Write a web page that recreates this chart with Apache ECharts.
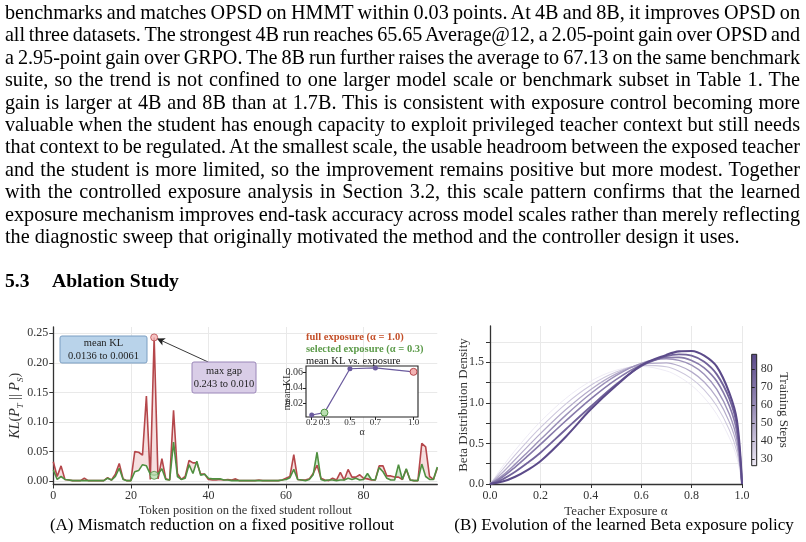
<!DOCTYPE html>
<html><head><meta charset="utf-8">
<script src="https://cdn.jsdelivr.net/npm/echarts@6/dist/echarts.min.js"></script>
<style>
html,body{margin:0;padding:0;background:#fff;}
#page{position:relative;width:806px;height:542px;overflow:hidden;background:#fff;}
#chart{position:absolute;left:0;top:0;width:806px;height:542px;}
#text{position:absolute;left:5px;top:1px;width:795px;font-family:'Liberation Serif','Times New Roman',serif;font-size:20.2px;line-height:22.4px;color:#000;}
.ln{white-space:nowrap;display:block;height:22.4px;}
.ln span{white-space:nowrap;}
#head{position:absolute;left:5px;top:270px;font-family:'Liberation Serif','Times New Roman',serif;font-weight:bold;font-size:19.6px;line-height:22px;color:#000;white-space:nowrap;}
</style></head>
<body>
<div id="page">
<div id="chart"></div>
<div id="text"></div>
<div id="head"><span>5.3</span><span style="position:absolute;left:47px;">Ablation Study</span></div>
</div>
<script>
// ---------------- text ----------------
const paragraphLines = [
 "benchmarks and matches OPSD on HMMT within 0.03 points. At 4B and 8B, it improves OPSD on",
 "all three datasets. The strongest 4B run reaches 65.65 Average@12, a 2.05-point gain over OPSD and",
 "a 2.95-point gain over GRPO. The 8B run further raises the average to 67.13 on the same benchmark",
 "suite, so the trend is not confined to one larger model scale or benchmark subset in Table 1. The",
 "gain is larger at 4B and 8B than at 1.7B. This is consistent with exposure control becoming more",
 "valuable when the student has enough capacity to exploit privileged teacher context but still needs",
 "that context to be regulated. At the smallest scale, the usable headroom between the exposed teacher",
 "and the student is more limited, so the improvement remains positive but more modest. Together",
 "with the controlled exposure analysis in Section 3.2, this scale pattern confirms that the learned",
 "exposure mechanism improves end-task accuracy across model scales rather than merely reflecting",
 "the diagnostic sweep that originally motivated the method and the controller design it uses."
];

// ---------------- chart A data ----------------
const fullExposureKL = [
 0.033,0.008,0.026,0.003,0.002,0.001,0.001,0.001,0.005,0.001,
 0.001,0.001,0.001,0.001,0.006,0.002,0.012,0.030,0.004,0.001,
 0.001,0.050,0.049,0.044,0.144,0.003,0.243,0.004,0.038,0.004,
 0.002,0.120,0.013,0.003,0.008,0.035,0.031,0.031,0.012,0.012,
 0.003,0.002,0.002,0.003,0.002,0.003,0.002,0.004,0.001,0.001,
 0.001,0.001,0.001,0.002,0.001,0.001,0.001,0.001,0.001,0.002,
 0.005,0.008,0.045,0.003,0.002,0.002,0.004,0.013,0.027,0.005,
 0.002,0.001,0.005,0.002,0.015,0.002,0.020,0.007,0.007,0.011,
 0.005,0.004,0.002,0.002,0.026,0.026,0.009,0.009,0.007,0.007,
 0.003,0.020,0.002,0.001,0.001,0.064,0.058,0.008,0.003,0.022
];
const selectedExposureKL = [
 0.019,0.003,0.008,0.003,0.002,0.001,0.001,0.001,0.001,0.001,
 0.001,0.001,0.001,0.001,0.005,0.002,0.008,0.022,0.003,0.001,
 0.001,0.016,0.018,0.028,0.026,0.012,0.010,0.012,0.021,0.003,
 0.002,0.066,0.008,0.003,0.005,0.028,0.013,0.034,0.010,0.012,
 0.005,0.004,0.004,0.004,0.002,0.002,0.001,0.001,0.001,0.001,
 0.001,0.001,0.001,0.001,0.001,0.001,0.001,0.001,0.001,0.002,
 0.003,0.006,0.020,0.003,0.002,0.001,0.003,0.011,0.049,0.003,
 0.001,0.002,0.002,0.001,0.002,0.002,0.005,0.003,0.005,0.002,
 0.003,0.013,0.003,0.002,0.023,0.016,0.005,0.002,0.002,0.028,
 0.003,0.021,0.002,0.001,0.001,0.029,0.008,0.003,0.003,0.024
];
const yTicksA = [0, 0.05, 0.10, 0.15, 0.20, 0.25];
const xTicksA = [0, 20, 40, 60, 80];

// inset
const insetAlpha = [0.2, 0.3, 0.5, 0.7, 1.0];
const insetMeanKL = [0.0052, 0.0082, 0.0645, 0.0655, 0.0605];
const insetYTicks = [0.02, 0.04, 0.06];

// ---------------- chart B data ----------------
const betaX = [0, 0.05, 0.1, 0.15, 0.2, 0.3, 0.4, 0.5, 0.6, 0.7, 0.75, 0.8, 0.85, 0.9, 0.95, 0.98, 1.0];
const trainingSteps = [27, 37, 47, 57, 67, 77, 88];
const densityStep27 = [0, 0.215, 0.416, 0.600, 0.768, 1.053, 1.267, 1.401, 1.448, 1.393, 1.321, 1.214, 1.063, 0.858, 0.569, 0.318, 0];
const densityStep37 = [0, 0.179, 0.359, 0.532, 0.694, 0.984, 1.216, 1.379, 1.461, 1.443, 1.388, 1.297, 1.159, 0.961, 0.666, 0.393, 0];
const densityStep47 = [0, 0.142, 0.302, 0.463, 0.621, 0.914, 1.165, 1.356, 1.473, 1.492, 1.456, 1.381, 1.256, 1.063, 0.762, 0.469, 0];
const densityStep57 = [0, 0.106, 0.245, 0.395, 0.547, 0.845, 1.114, 1.334, 1.486, 1.542, 1.523, 1.464, 1.352, 1.166, 0.859, 0.544, 0];
const densityStep67 = [0, 0.087, 0.209, 0.345, 0.487, 0.776, 1.049, 1.286, 1.466, 1.558, 1.560, 1.522, 1.431, 1.265, 0.960, 0.630, 0];
const densityStep77 = [0, 0.058, 0.150, 0.262, 0.385, 0.672, 0.955, 1.225, 1.452, 1.574, 1.597, 1.580, 1.505, 1.350, 1.050, 0.710, 0];
const densityStep88 = [0, 0.030, 0.090, 0.175, 0.280, 0.580, 0.920, 1.210, 1.460, 1.590, 1.634, 1.638, 1.580, 1.445, 1.120, 0.780, 0];
const densityCurves = [densityStep27, densityStep37, densityStep47, densityStep57, densityStep67, densityStep77, densityStep88];
const xTicksB = [0, 0.2, 0.4, 0.6, 0.8, 1.0];
const yTicksB = [0, 0.5, 1.0, 1.5];
const yMinorB = [0, 0.25, 0.5, 0.75, 1.0, 1.25, 1.5, 1.75];
const stepTicks = [30, 40, 50, 60, 70, 80];
const stepRange = [26.4, 88.3];

// ---------------- text layout ----------------
(function(){
  const box = document.getElementById('text');
  paragraphLines.forEach((t, k) => {
    const d = document.createElement('div'); d.className = 'ln';
    const s = document.createElement('span'); s.textContent = t; d.appendChild(s); box.appendChild(d);
    if (k < paragraphLines.length - 1) {
      const w = s.getBoundingClientRect().width;
      const n = (t.match(/ /g) || []).length;
      let ws = (795 - w) / n;
      if (ws < -1.0) {
        ws = -1.0;
        const ls = (795 - w - ws * n) / t.length;
        s.style.letterSpacing = ls + 'px';
      }
      s.style.wordSpacing = ws + 'px';
    }
  });
})();

// ---------------- chart ----------------
const FONT = "'Liberation Serif', 'Times New Roman', serif";
const RED = '#b5474b', GREEN = '#4f9040', PURPLE = '#6b5b9e';
const chart = echarts.init(document.getElementById('chart'), null, {renderer: 'canvas'});

const tokens = fullExposureKL.map((_, i) => i);
const fillData = [];
for (let i = 0; i < tokens.length - 1; i++) {
  fillData.push([tokens[i], fullExposureKL[i], selectedExposureKL[i], fullExposureKL[i+1], selectedExposureKL[i+1]]);
}
let gapIdx = 0;
fullExposureKL.forEach((v, i) => { if (v - selectedExposureKL[i] > fullExposureKL[gapIdx] - selectedExposureKL[gapIdx]) gapIdx = i; });

function fillItem(params, api) {
  const i = api.value(0), r0 = api.value(1), g0 = api.value(2), r1 = api.value(3), g1 = api.value(4);
  const d0 = r0 - g0, d1 = r1 - g1;
  const P = (x, y) => api.coord([x, y]);
  const pink = 'rgba(214,110,110,0.22)', lg = 'rgba(110,185,100,0.32)';
  const ch = [];
  if (d0 * d1 >= 0) {
    ch.push({type: 'polygon', shape: {points: [P(i, r0), P(i+1, r1), P(i+1, g1), P(i, g0)]}, style: {fill: (d0 + d1) >= 0 ? pink : lg}});
  } else {
    const t = d0 / (d0 - d1), xc = i + t, yc = r0 + (r1 - r0) * t;
    ch.push({type: 'polygon', shape: {points: [P(i, r0), P(xc, yc), P(i, g0)]}, style: {fill: d0 > 0 ? pink : lg}});
    ch.push({type: 'polygon', shape: {points: [P(xc, yc), P(i+1, r1), P(i+1, g1)]}, style: {fill: d1 > 0 ? pink : lg}});
  }
  return {type: 'group', children: ch};
}

const lightC = [237, 233, 244], darkC = [91, 74, 138];
function stepColor(s) {
  const t = (s - stepRange[0]) / (stepRange[1] - stepRange[0]);
  const c = lightC.map((v, k) => Math.round(v + (darkC[k] - v) * Math.pow(t, 0.85)));
  return 'rgb(' + c.join(',') + ')';
}

const axisLineStyle = {color: '#333', width: 1.3};
const lbl = (size) => ({color: '#333', fontFamily: FONT, fontSize: size});

const option = {
  animation: false,
  backgroundColor: 'transparent',
  textStyle: {fontFamily: FONT},
  grid: [
    {left: 53.3, top: 327, width: 384, height: 157.5},                 // A main
    {left: 306, top: 366, width: 112, height: 51, show: true, backgroundColor: '#fff', borderColor: '#222', borderWidth: 1.1, z: 4}, // inset
    {left: 490, top: 326, width: 252, height: 158},                    // B
    {left: 751.7, top: 354.3, width: 5, height: 111.4, show: true, borderColor: '#222', borderWidth: 1, z: 4} // colorbar
  ],
  xAxis: [
    {gridIndex: 0, type: 'value', min: 0, max: 99,
     name: 'Token position on the fixed student rollout', nameLocation: 'middle', nameGap: 20,
     nameTextStyle: {fontFamily: FONT, fontSize: 12.5, color: '#333'},
     axisLine: {onZero: false, lineStyle: axisLineStyle},
     axisTick: {customValues: xTicksA, length: 4, lineStyle: {color: '#333'}},
     axisLabel: {customValues: xTicksA, margin: 5, ...lbl(12)},
     splitLine: {show: true, lineStyle: {color: '#e9e9e9', width: 1}}},
    {gridIndex: 1, type: 'value', min: 0.155, max: 1.035, z: 5,
     name: 'α', nameLocation: 'middle', nameGap: 10, nameMoveOverlap: false, nameTextStyle: {fontFamily: FONT, fontSize: 10, color: '#333'},
     axisLine: {show: false},
     axisTick: {customValues: insetAlpha, length: 3, lineStyle: {color: '#222'}},
     axisLabel: {customValues: insetAlpha, margin: 1, formatter: v => v.toFixed(1), ...lbl(9)},
     splitLine: {show: false}},
    {gridIndex: 2, type: 'value', min: 0, max: 1,
     name: 'Teacher Exposure α', nameLocation: 'middle', nameGap: 21,
     nameTextStyle: {fontFamily: FONT, fontSize: 13, color: '#333'},
     axisLine: {onZero: false, lineStyle: axisLineStyle},
     axisTick: {customValues: xTicksB, length: 4, lineStyle: {color: '#333'}},
     axisLabel: {customValues: xTicksB, margin: 6, formatter: v => v.toFixed(1), ...lbl(12)},
     splitLine: {show: true, lineStyle: {color: '#e9e9e9'}}},
    {gridIndex: 3, type: 'value', min: 0, max: 1, show: false}
  ],
  yAxis: [
    {gridIndex: 0, type: 'value', min: -0.0055, max: 0.2606,
     name: '{i|KL}{n|(}{i|P}{s|T}{n| || }{i|P}{s|S}{n|)}', nameLocation: 'middle', nameGap: 28, nameMoveOverlap: false,
     nameTextStyle: {rich: {
       i: {fontFamily: FONT, fontStyle: 'italic', fontSize: 14, color: '#333', lineHeight: 20, verticalAlign: 'middle'},
       n: {fontFamily: FONT, fontSize: 14, color: '#333', lineHeight: 20, verticalAlign: 'middle'},
       s: {fontFamily: FONT, fontStyle: 'italic', fontSize: 9, color: '#333', lineHeight: 20, verticalAlign: 'bottom'}}},
     axisLine: {show: true, onZero: false, lineStyle: axisLineStyle},
     axisTick: {show: true, customValues: yTicksA, length: 4, lineStyle: {color: '#333'}},
     axisLabel: {customValues: yTicksA, margin: 5, formatter: v => v.toFixed(2), ...lbl(12)},
     splitLine: {show: true, lineStyle: {color: '#e9e9e9'}}},
    {gridIndex: 1, type: 'value', min: 0.0026, max: 0.068, z: 5,
     name: 'mean KL', nameLocation: 'middle', nameGap: 14, nameMoveOverlap: false, nameTextStyle: {fontFamily: FONT, fontSize: 10, color: '#333'},
     axisLine: {show: false},
     axisTick: {show: true, customValues: insetYTicks, length: 3, lineStyle: {color: '#222'}},
     axisLabel: {customValues: insetYTicks, margin: 3, formatter: v => v.toFixed(2), ...lbl(10)},
     splitLine: {show: false}},
    {gridIndex: 2, type: 'value', min: 0, max: 1.946,
     name: 'Beta Distribution Density', nameLocation: 'middle', nameGap: 20, nameMoveOverlap: false,
     nameTextStyle: {fontFamily: FONT, fontSize: 13, color: '#333'},
     axisLine: {show: true, onZero: false, lineStyle: axisLineStyle},
     axisTick: {show: true, customValues: yMinorB, length: 4, lineStyle: {color: '#333'}},
     axisLabel: {customValues: yTicksB, margin: 6, formatter: v => v.toFixed(1), ...lbl(12)},
     splitLine: {show: true, lineStyle: {color: '#e9e9e9'}}},
    {gridIndex: 3, type: 'value', min: stepRange[0], max: stepRange[1], position: 'right', z: 5,
     name: 'Training Steps', nameLocation: 'middle', nameGap: 20, nameRotate: -90,
     nameTextStyle: {fontFamily: FONT, fontSize: 13, color: '#333'},
     axisLine: {show: false},
     axisTick: {show: true, customValues: stepTicks, length: 3, lineStyle: {color: '#222'}},
     axisLabel: {customValues: stepTicks, margin: 4, ...lbl(12)},
     splitLine: {show: false}}
  ],
  series: [
    {type: 'custom', xAxisIndex: 0, yAxisIndex: 0, renderItem: fillItem, data: fillData, encode: {x: 0, y: [1, 2]}, z: 1, silent: true},
    {type: 'line', xAxisIndex: 0, yAxisIndex: 0, data: tokens.map((x, i) => [x, fullExposureKL[i]]), symbol: 'none',
     lineStyle: {color: RED, width: 1.6}, z: 3,
     markLine: {silent: true, symbol: ['none', 'arrow'], symbolSize: [6, 8], label: {show: false},
       lineStyle: {color: '#222', width: 0.9, type: 'solid'},
       data: [[{coord: [39.9, 0.2015]}, {coord: [26.7, 0.2412]}]]}},
    {type: 'line', xAxisIndex: 0, yAxisIndex: 0, data: tokens.map((x, i) => [x, selectedExposureKL[i]]), symbol: 'none',
     lineStyle: {color: GREEN, width: 1.6}, z: 4},
    {type: 'scatter', xAxisIndex: 0, yAxisIndex: 0, data: [[tokens[gapIdx], selectedExposureKL[gapIdx]]], symbol: 'circle', symbolSize: 8,
     itemStyle: {color: '#b9dfb0', borderColor: GREEN, borderWidth: 1}, z: 5},
    {type: 'scatter', xAxisIndex: 0, yAxisIndex: 0, data: [[tokens[gapIdx], fullExposureKL[gapIdx]]], symbol: 'circle', symbolSize: 7,
     itemStyle: {color: '#f3b3b3', borderColor: RED, borderWidth: 1}, z: 5},
    {type: 'line', xAxisIndex: 1, yAxisIndex: 1, z: 6,
     data: insetAlpha.map((a, i) => {
       const p = {value: [a, insetMeanKL[i]]};
       if (a === 0.3) { p.symbolSize = 7; p.itemStyle = {color: '#b9dfb0', borderColor: GREEN, borderWidth: 1}; }
       if (a === 1.0) { p.symbolSize = 7; p.itemStyle = {color: '#f3b3b3', borderColor: RED, borderWidth: 1}; }
       return p;
     }),
     symbol: 'circle', symbolSize: 5, lineStyle: {color: PURPLE, width: 1.2}, itemStyle: {color: PURPLE, borderWidth: 0}},
    ...densityCurves.map((curve, k) => ({
      type: 'line', xAxisIndex: 2, yAxisIndex: 2, smooth: 0.35, symbol: 'none', z: 2 + k,
      data: betaX.map((x, i) => [x, curve[i]]),
      lineStyle: {color: stepColor(trainingSteps[k]), width: 0.8 + 1.3 * k / (densityCurves.length - 1)}
    })),
    {type: 'custom', xAxisIndex: 3, yAxisIndex: 3, data: [[0, stepRange[0], stepRange[1]]], silent: true, z: 3,
     renderItem: (params, api) => {
       const p1 = api.coord([0, api.value(2)]), p2 = api.coord([1, api.value(1)]);
       return {type: 'rect', shape: {x: p1[0], y: p1[1], width: p2[0] - p1[0], height: p2[1] - p1[1]},
         style: {fill: new echarts.graphic.LinearGradient(0, 0, 0, 1, [
           {offset: 0, color: stepColor(stepRange[1])}, {offset: 0.5, color: stepColor((stepRange[0] + stepRange[1]) / 2)}, {offset: 1, color: stepColor(stepRange[0])}])}};
     }}
  ],
  graphic: [
    {type: 'rect', shape: {x: 60, y: 336, width: 87, height: 27, r: 2}, style: {fill: '#b9d3ea', stroke: '#7b9ec2', lineWidth: 1}, z: 10},
    {type: 'text', x: 103.5, y: 349.5, style: {text: 'mean KL\n0.0136 to 0.0061', font: '10.5px ' + FONT, fill: '#222', align: 'center', verticalAlign: 'middle', lineHeight: 12.5}, z: 11},
    {type: 'rect', shape: {x: 192, y: 362, width: 64, height: 31, r: 2}, style: {fill: '#d9cde7', stroke: '#9a86b8', lineWidth: 1}, z: 10},
    {type: 'text', x: 224, y: 377.5, style: {text: 'max gap\n0.243 to 0.010', font: '10.5px ' + FONT, fill: '#222', align: 'center', verticalAlign: 'middle', lineHeight: 12.5}, z: 11},
    {type: 'text', x: 306, y: 337, style: {text: 'full exposure (α = 1.0)', font: 'bold 10.5px ' + FONT, fill: '#c4502a', verticalAlign: 'middle'}, z: 11},
    {type: 'text', x: 306, y: 349.5, style: {text: 'selected exposure (α = 0.3)', font: 'bold 10.5px ' + FONT, fill: '#5c9b4a', verticalAlign: 'middle'}, z: 11},
    {type: 'text', x: 306, y: 361.5, style: {text: 'mean KL vs. exposure', font: '10.5px ' + FONT, fill: '#111', verticalAlign: 'middle'}, z: 11},
    {type: 'text', x: 222, y: 526, style: {text: '(A) Mismatch reduction on a fixed positive rollout', font: '17px ' + FONT, fill: '#000', align: 'center', verticalAlign: 'middle'}},
    {type: 'text', x: 624, y: 526, style: {text: '(B) Evolution of the learned Beta exposure policy', font: '17px ' + FONT, fill: '#000', align: 'center', verticalAlign: 'middle'}}
  ]
};
chart.setOption(option);
</script>
</body></html>
